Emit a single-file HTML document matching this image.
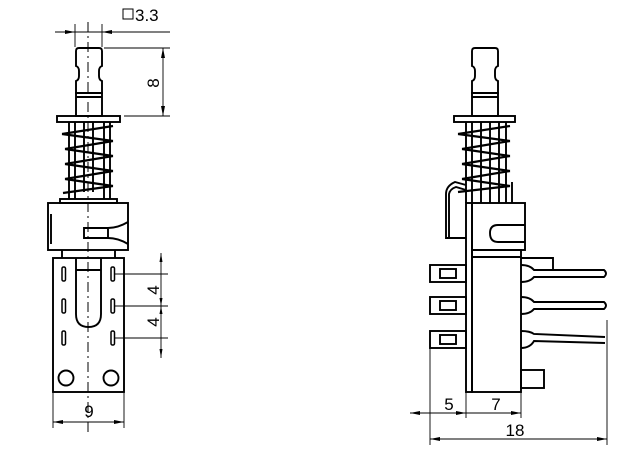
<!DOCTYPE html>
<html><head><style>html,body{margin:0;padding:0;background:#fff}svg{display:block}</style></head>
<body>
<svg width="628" height="455" viewBox="0 0 628 455" xmlns="http://www.w3.org/2000/svg" font-family="Liberation Sans, Arial, sans-serif">
<g fill="none" stroke="#000" stroke-width="1.9">
<!-- LEFT VIEW -->
<path d="M76,51 Q76,48 79,48 H99 Q102,48 102,51 V66 Q99,67 99,71 V76 Q99,80 102,81 V93 H76 V81 Q79,80 79,76 V71 Q79,67 76,66 Z"/>
<rect x="76" y="93" width="26" height="23"/>
<line x1="76" y1="97" x2="102" y2="97"/>
<rect x="57" y="116" width="63" height="6"/>
<line x1="69" y1="122" x2="69" y2="199"/><line x1="75" y1="122" x2="75" y2="199"/>
<line x1="104" y1="122" x2="104" y2="199"/><line x1="110" y1="122" x2="110" y2="199"/>
<line x1="84" y1="122" x2="84" y2="192"/><line x1="93" y1="122" x2="93" y2="192"/>
<path stroke-width="2.2" d="M62,134 L113,126 M62,134 L113,141 M65,149 L113,141 M65,149 L113,156 M65,164 L113,156 M65,164 L113,171 M65,179 L113,171 M65,179 L113,186 M63,193 L113,186"/>
<rect x="60" y="199" width="57" height="4"/>
<rect x="48" y="203" width="80" height="47"/>
<line x1="51" y1="214" x2="51" y2="244"/>
<path d="M108,228 H84 V238 H108 Q118,238 128,244 M108,228 Q118,228 128,222 M108,228 V238"/>
<line x1="62" y1="250" x2="62" y2="258"/><line x1="115" y1="250" x2="115" y2="258"/>
<rect x="53" y="258" width="71" height="134"/>
<path d="M76,258 V314 Q76,327 88.5,327 Q101,327 101,314 V258"/>
<line x1="76" y1="270" x2="101" y2="270"/>
<circle cx="66" cy="378" r="7.5"/><circle cx="111" cy="378" r="7.5"/>
</g>
<g fill="#fff" stroke="#000" stroke-width="1.5">
<rect x="62" y="267" width="3.5" height="14" rx="1.5"/><rect x="62" y="299" width="3.5" height="14" rx="1.5"/><rect x="62" y="331" width="3.5" height="14" rx="1.5"/>
<rect x="111" y="267" width="3.5" height="14" rx="1.5"/><rect x="111" y="299" width="3.5" height="14" rx="1.5"/><rect x="111" y="331" width="3.5" height="14" rx="1.5"/>
</g>
<line x1="88" y1="22" x2="88" y2="432" stroke="#000" stroke-width="1" stroke-dasharray="10,4,2,4"/>
<g stroke="#000" stroke-width="0.9" fill="none">
<line x1="75" y1="24" x2="75" y2="47"/><line x1="102" y1="24" x2="102" y2="47"/>
<line x1="55" y1="32" x2="170" y2="32"/>
<line x1="104" y1="48" x2="170" y2="48"/><line x1="124" y1="116" x2="170" y2="116"/>
<line x1="163" y1="48" x2="163" y2="116"/>
<line x1="115" y1="274" x2="168" y2="274"/><line x1="115" y1="306" x2="168" y2="306"/><line x1="115" y1="338" x2="168" y2="338"/>
<line x1="161" y1="253" x2="161" y2="358"/>
<line x1="53" y1="393" x2="53" y2="428"/><line x1="124" y1="393" x2="124" y2="428"/>
<line x1="53" y1="422" x2="124" y2="422"/>
</g>
<g fill="#000">
<path d="M75,32 l-10,-2 v4z M102,32 l10,-2 v4z"/>
<path d="M163,48 l-2,10 h4z M163,116 l-2,-10 h4z"/>
<path d="M161,253 l-1.5,9 h3z M161,358 l-1.5,-9 h3z M161,306 l-1.5,-8 h3z M161,306 l-1.5,8 h3z"/>
<path d="M53,422 l10,-2 v4z M124,422 l-10,-2 v4z"/>
</g>
<g font-size="17" fill="#000">
<rect x="123" y="9" width="10" height="10" fill="none" stroke="#000" stroke-width="1"/>
<text x="135" y="21">3.3</text>
<text transform="translate(159,83) rotate(-90)" text-anchor="middle">8</text>
<text transform="translate(159,290) rotate(-90)" text-anchor="middle">4</text>
<text transform="translate(159,322) rotate(-90)" text-anchor="middle">4</text>
<text x="89" y="417" text-anchor="middle">9</text>
</g>
<!-- RIGHT VIEW -->
<g fill="none" stroke="#000" stroke-width="1.9">
<path d="M472,51 Q472,48 475,48 H495 Q498,48 498,51 V66 Q495,67 495,71 V76 Q495,80 498,81 V93 H472 V81 Q475,80 475,76 V71 Q475,67 472,66 Z"/>
<rect x="472" y="93" width="26" height="23"/>
<line x1="472" y1="97" x2="498" y2="97"/>
<rect x="454" y="116" width="61" height="6"/>
<line x1="466" y1="122" x2="466" y2="203"/><line x1="472" y1="122" x2="472" y2="203"/>
<line x1="481" y1="122" x2="481" y2="203"/><line x1="490" y1="122" x2="490" y2="203"/>
<line x1="499" y1="122" x2="499" y2="203"/><line x1="506" y1="122" x2="506" y2="203"/>
<line x1="512" y1="182" x2="512" y2="203"/>
<path stroke-width="2.2" d="M458,134 L510,126 M458,134 L510,141 M462,149 L510,141 M462,149 L510,156 M462,164 L510,156 M462,164 L510,171 M462,179 L510,171 M462,179 L510,186 M458,192 L510,186"/>
<path d="M466,185 L455,182 Q446,186 446,194 V238 H466 M449,238 V194 Q450,189 456,187 L466,190"/>
<rect x="466" y="203" width="6" height="189"/>
<rect x="472" y="203" width="53" height="47"/>
<path d="M525,225 H498 Q490,225 490,233 Q490,242 498,242 H525"/>
<rect x="472" y="250" width="49" height="142"/>
<line x1="472" y1="257" x2="521" y2="257"/>
<path d="M521,258 H553 V270"/>
<rect x="430" y="265" width="36" height="17"/><rect x="440" y="269" width="16" height="9"/>
<rect x="430" y="297" width="36" height="17"/><rect x="440" y="301" width="16" height="9"/>
<rect x="430" y="331" width="36" height="17"/><rect x="440" y="335" width="16" height="9"/>
<rect x="521" y="370" width="23" height="18"/>
<path d="M521,265 Q530,265 534,270 H604 Q608,273.5 604,277 H534 Q530,282 521,282"/>
<path d="M521,297 Q530,297 534,302 H604 Q608,305.5 604,309 H534 Q530,314 521,314"/>
<path d="M521,331 Q530,331 534,334 L605,337 M605,343 L534,341 Q530,348 521,348"/>
</g>
<g stroke="#000" stroke-width="0.9" fill="none">
<line x1="430" y1="348" x2="430" y2="445"/><line x1="466" y1="392" x2="466" y2="418"/>
<line x1="521" y1="392" x2="521" y2="418"/><line x1="607" y1="320" x2="607" y2="445"/>
<line x1="410" y1="413" x2="521" y2="413"/>
<line x1="430" y1="439" x2="607" y2="439"/>
</g>
<g fill="#000">
<path d="M410,413 l10,-2 v4z M466,413 l-10,-2 v4z M521,413 l-10,-2 v4z"/>
<path d="M430,439 l10,-2 v4z M607,439 l-10,-2 v4z"/>
</g>
<g font-size="17" fill="#000" text-anchor="middle">
<text x="449" y="410">5</text>
<text x="496" y="410">7</text>
<text x="515" y="436">18</text>
</g>
</svg>
</body></html>
